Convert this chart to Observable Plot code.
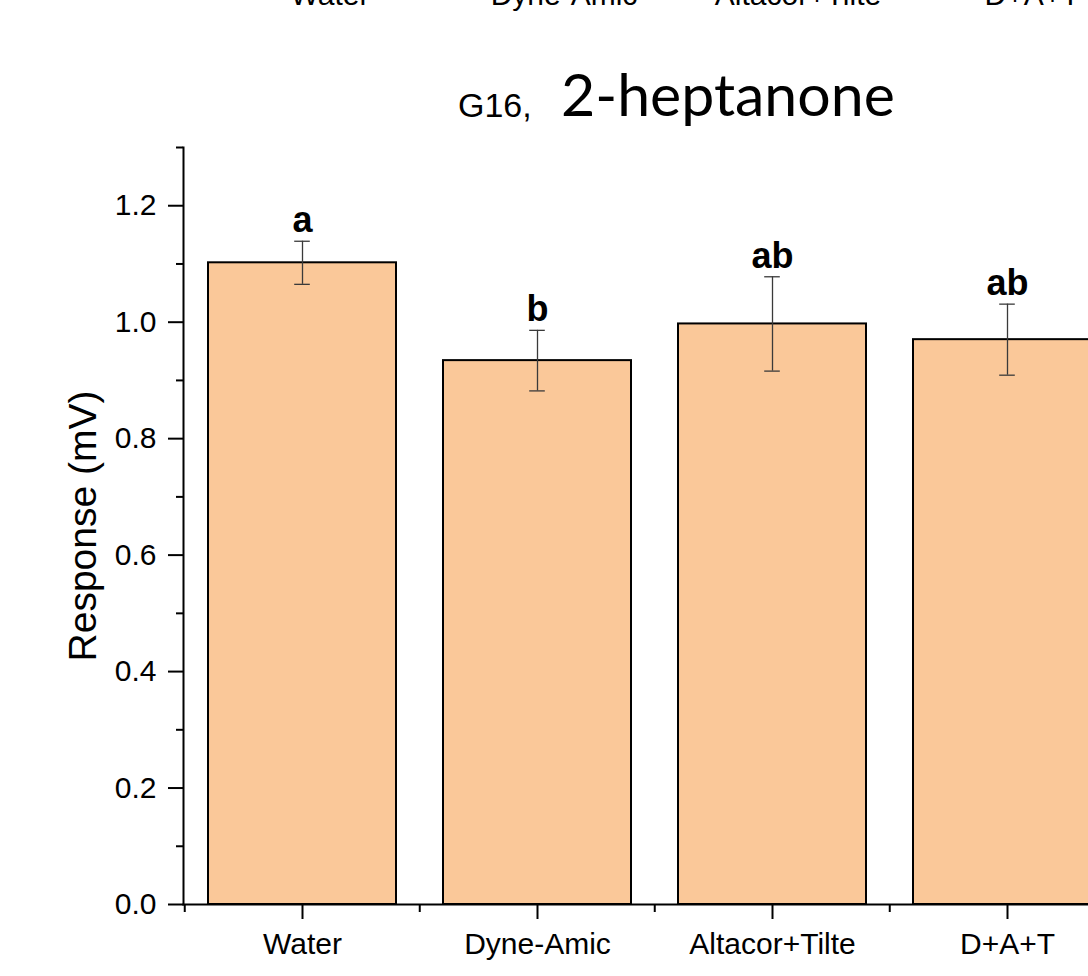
<!DOCTYPE html>
<html>
<head>
<meta charset="utf-8">
<script src="https://cdn.jsdelivr.net/npm/d3@7"></script>
<script src="https://cdn.jsdelivr.net/npm/@observablehq/plot@0.6"></script>
<style>
  html, body { margin: 0; padding: 0; background: #fff; overflow: hidden; width: 1088px; height: 976px; }
  #head { position: relative; height: 140px; width: 1088px; font-family: "Liberation Sans", Arial, sans-serif; color: #000; }
  .prev { position: absolute; top: -20px; font-size: 30px; line-height: 30px; transform: translateX(-50%); white-space: nowrap; }
  #t1 { position: absolute; left: 458px; top: 88px; font-size: 34px; line-height: 34px; white-space: nowrap; }
  #t2 { position: absolute; left: 561px; top: 64px; font-family: Lato, sans-serif; font-size: 59px; line-height: 59px; white-space: nowrap; }
  #chart svg { display: block; }
</style>
</head>
<body>
<div id="head"></div>
<div id="chart"></div>
<script>
// ---- data ----
const categories = ["Water", "Dyne-Amic", "Altacor+Tilte", "D+A+T"];
const means = [1.102, 0.934, 0.997, 0.970];
const errors = [0.037, 0.052, 0.081, 0.061];
const letters = ["a", "b", "ab", "ab"];
const yMajorTicks = [0, 0.2, 0.4, 0.6, 0.8, 1.0, 1.2];
const yMinorTicks = [0.1, 0.3, 0.5, 0.7, 0.9, 1.1, 1.3];
const yLabel = "Response (mV)";
const titlePrefix = "G16,";
const titleMain = "2-heptanone";
const prevPanelLabels = ["Water", "Dyne-Amic", "Altacor+Tilte", "D+A+T"];

// ---- header (title + cut-off labels of panel above) ----
const head = document.getElementById("head");
prevPanelLabels.forEach((t, i) => {
  const s = document.createElement("span");
  s.className = "prev";
  s.textContent = t;
  s.style.left = (330 + i * 234) + "px";
  head.appendChild(s);
});
const t1 = document.createElement("span"); t1.id = "t1"; t1.textContent = titlePrefix; head.appendChild(t1);
const t2 = document.createElement("span"); t2.id = "t2"; t2.textContent = titleMain; head.appendChild(t2);

// ---- chart ----
const data = categories.map((c, i) => ({
  cat: c, mean: means[i], lo: means[i] - errors[i], hi: means[i] + errors[i], letter: letters[i]
}));

const W = 1200, H = 836, ML = 183, MR = W - 1125, MT = 7, MB = 72;
const step = (W - MR - ML) / categories.length;
const bandwidth = step * 0.8;
const capInset = (bandwidth - 16) / 2;

const chart = Plot.plot({
  width: W, height: H,
  marginLeft: ML, marginRight: MR, marginTop: MT, marginBottom: MB,
  style: { fontFamily: "'Liberation Sans', Arial, sans-serif", background: "white", overflow: "visible", maxWidth: "none", color: "#000" },
  x: { type: "band", domain: categories, paddingInner: 0.2, paddingOuter: 0.1 },
  y: { domain: [0, 1.3] },
  marks: [
    Plot.barY(data, { x: "cat", y: "mean", fill: "#fac899", stroke: "#000", strokeWidth: 2 }),
    Plot.ruleX(data, { x: "cat", y1: "lo", y2: "hi", stroke: "#3a3a3a", strokeWidth: 1.3 }),
    Plot.tickY(data, { x: "cat", y: "lo", stroke: "#3a3a3a", strokeWidth: 1.3, insetLeft: capInset, insetRight: capInset }),
    Plot.tickY(data, { x: "cat", y: "hi", stroke: "#3a3a3a", strokeWidth: 1.3, insetLeft: capInset, insetRight: capInset }),
    Plot.text(data, { x: "cat", y: "hi", text: "letter", lineAnchor: "bottom", dy: -9, fontSize: 36, fontWeight: "bold", fill: "#000" }),
    Plot.axisY({ ticks: yMajorTicks, tickSize: 15, tickPadding: 12, tickFormat: d3.format(".1f"), fontSize: 30, label: null, strokeWidth: 2 }),
    Plot.axisY({ ticks: yMinorTicks, tickSize: 7, text: null, label: null, strokeWidth: 2 }),
    Plot.axisX({ tickSize: 15, tickPadding: 13, fontSize: 30, label: null, strokeWidth: 2 }),
    Plot.axisX({ tickSize: 8, text: null, label: null, strokeWidth: 2, dx: -step / 2 }),
    Plot.frame({ anchor: "left", strokeWidth: 2 }),
    Plot.frame({ anchor: "bottom", strokeWidth: 2 }),
    Plot.text([yLabel], { frameAnchor: "left", textAnchor: "middle", dx: -100, rotate: -90, fontSize: 39, fill: "#000" })
  ]
});
document.getElementById("chart").appendChild(chart);
</script>
</body>
</html>
